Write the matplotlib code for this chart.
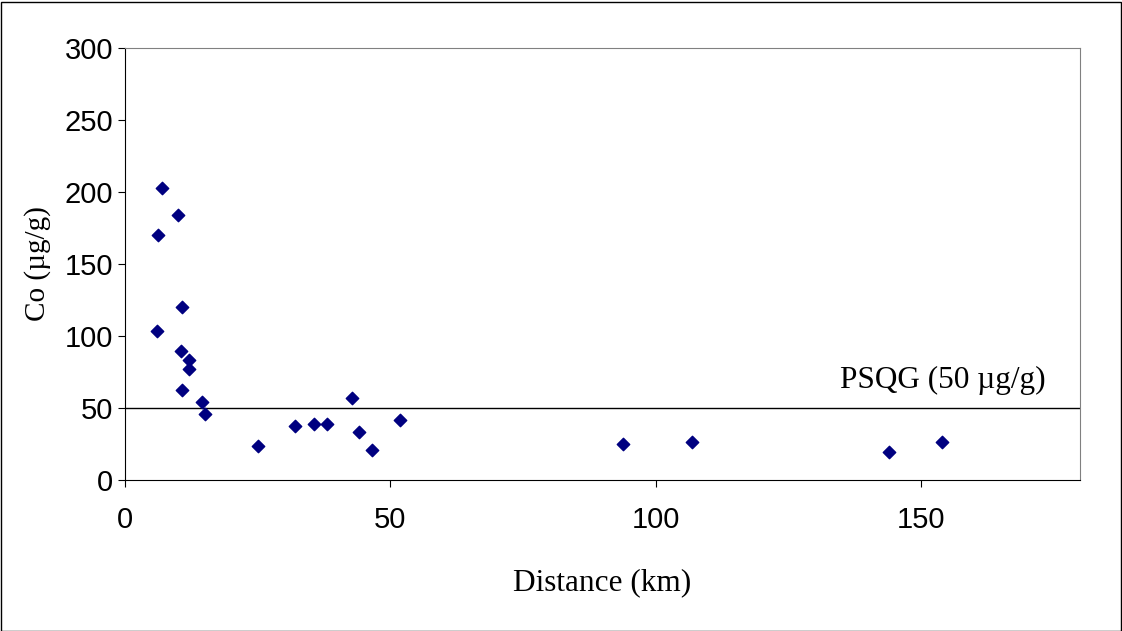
import matplotlib.pyplot as plt
from matplotlib.patches import Rectangle

distance = [6.0, 6.2, 7.0, 10.0, 10.7, 10.5, 12.0, 12.0, 10.7, 14.5, 15.1, 25.1,
            32.0, 35.6, 38.1, 42.8, 44.1, 46.5, 51.8, 93.8, 106.8, 144.0, 154.0]
cobalt = [103.5, 170, 203, 184, 120, 89.6, 83, 77, 62.5, 54, 46, 23.6,
          37.5, 39, 39, 57, 33, 21, 42, 25, 26.4, 19.4, 26.4]
psqg = 50

fig = plt.figure(figsize=(11.22, 6.31), dpi=100)
ax = fig.add_axes([125 / 1122, 1 - 480 / 631, 955 / 1122, 432 / 631])
fig.patches.append(Rectangle((0.5 / 1122, 0.5 / 631), 1 - 2 / 1122, 1 - 2 / 631,
                             transform=fig.transFigure, fill=False, ec='black', lw=1))

ax.scatter(distance, cobalt, marker='D', s=40, color='#000080', zorder=3)
ax.axhline(psqg, color='black', lw=1)
ax.text(173.5, 59, 'PSQG (50 \u00b5g/g)', ha='right', va='bottom',
        family='Liberation Serif', fontsize=22.5)

ax.set_xlim(0, 180)
ax.set_ylim(0, 300)
ax.set_xticks([0, 50, 100, 150])
ax.set_yticks(range(0, 301, 50))
for s in ['top', 'right']:
    ax.spines[s].set_color('#808080')
ax.tick_params(direction='out', length=5, labelsize=21)
ax.tick_params(axis='x', pad=14)
for lab in ax.get_xticklabels() + ax.get_yticklabels():
    lab.set_family('Liberation Sans')
ax.set_xlabel('Distance (km)', family='Liberation Serif', fontsize=22.5, labelpad=24)
ax.set_ylabel('Co (\u00b5g/g)', family='Liberation Serif', fontsize=21, labelpad=10)

fig.savefig('out.png', dpi=100)
